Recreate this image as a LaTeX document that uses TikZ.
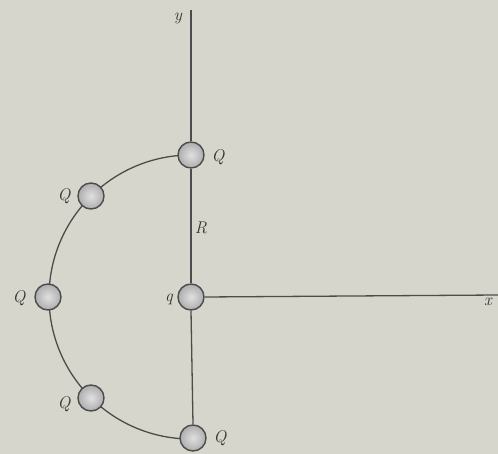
\documentclass[tikz,border=0pt]{standalone}
\begin{document}
\begin{tikzpicture}[x=1pt,y=-1pt,
  charge/.style={circle,draw=black!70,line width=1.4pt,inner sep=0pt,minimum size=26pt,inner color=black!12,outer color=black!32},
  lbl/.style={font=\fontsize{17}{19}\selectfont\itshape,text=black!80},
  axis/.style={draw=black!70,line width=1.3pt}]
\fill[black!19!white!95!yellow] (0,0) rectangle (498,454);
\useasboundingbox (0,0) rectangle (498,454);
\coordinate (ytop) at (191,10);
\coordinate (xend) at (498,295);
\coordinate (arcstart) at (191,155);
\draw[axis] (arcstart) arc[start angle=270,end angle=90,radius=142];
\node[charge] (q) at (191,297) {};
\node[charge] (Qt) at (191,155) {};
\node[charge] (Qb) at (193,438) {};
\node[charge] (Qul) at (91,196) {};
\node[charge] (Ql) at (48,297) {};
\node[charge] (Qll) at (91,398) {};
\draw[axis] (ytop) -- (Qt.north);
\draw[axis] (Qt.south) -- (q.north);
\draw[axis] (q.south) -- (Qb.north);
\draw[axis] (q.east) -- (xend);
\node[lbl] (ly) at (178,18) {y};
\node[lbl] (lx) at (488,302) {x};
\node[lbl] (lR) at (201,228) {R};
\node[lbl] (lq) at (169,299) {q};
\node[lbl] (l1) at (218,157) {Q};
\node[lbl] (l2) at (64,196) {Q};
\node[lbl] (l3) at (19,298) {Q};
\node[lbl] (l4) at (64,404) {Q};
\node[lbl] (l5) at (220,438) {Q};
\end{tikzpicture}
\end{document}
